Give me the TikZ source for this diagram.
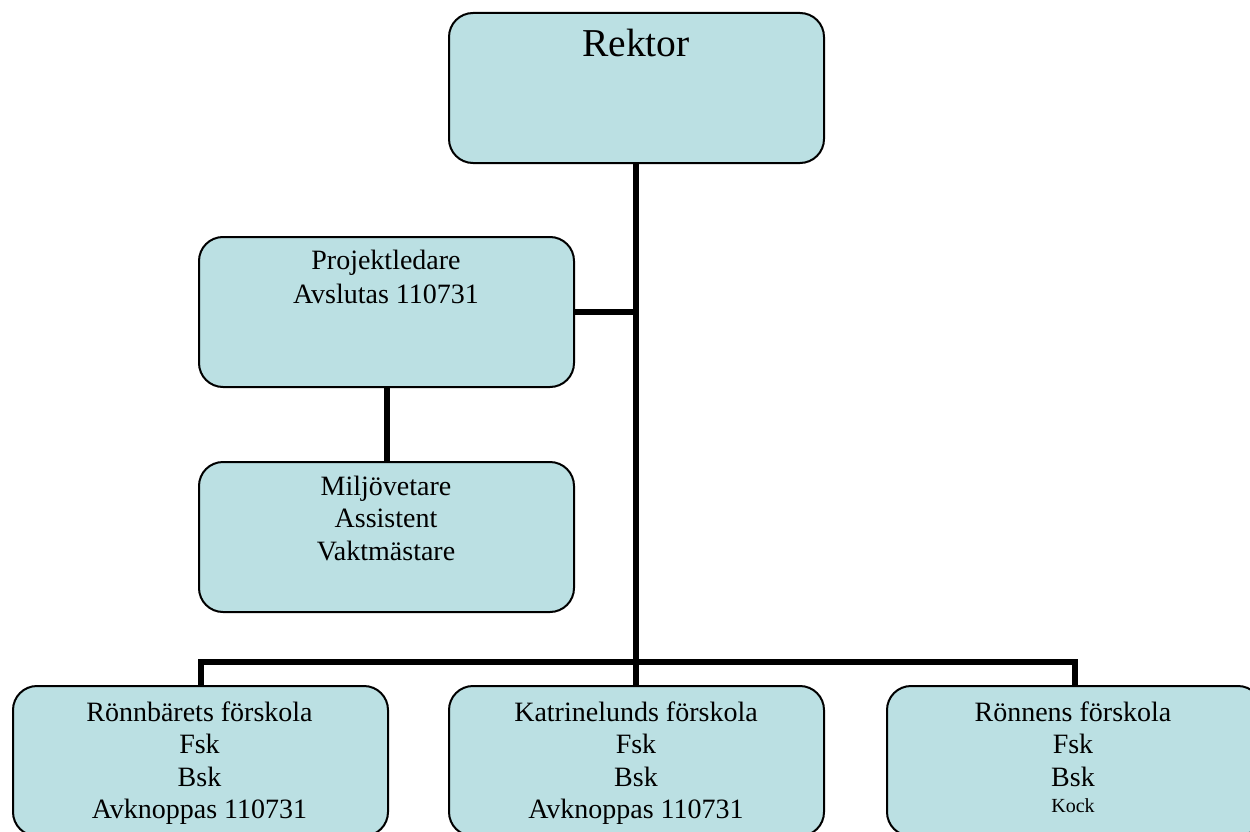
\documentclass[tikz,border=0pt]{standalone}
\usepackage{fontspec}
\setmainfont{Liberation Serif}
\definecolor{boxfill}{HTML}{BBE0E3}
\tikzset{
  box/.style={draw=black, line width=2pt, fill=boxfill, rounded corners=24pt,
    minimum width=375pt, minimum height=150pt, inner sep=0pt, anchor=north west},
  txt/.style={inner sep=0pt, anchor=base, font=\fontsize{28}{32.5}\selectfont},
  conn/.style={line width=6pt, line cap=butt, line join=miter}
}
\newcommand{\lines}[1]{\begin{tabular}[t]{@{}c@{}}#1\end{tabular}}
\begin{document}
\begin{tikzpicture}[x=1pt,y=-1pt]
\useasboundingbox (0,0) rectangle (1250,832);
\clip (0,0) rectangle (1250,832);
% boxes
\node[box] (rek) at (448,12) {};
\node[box] (proj) at (198,236) {};
\node[box] (milj) at (198,461) {};
\node[box] (ronnb) at (12,685) {};
\node[box] (katr) at (448,685) {};
\node[box] (ronn) at (886,685) {};
% junctions
\coordinate (jp) at (636,311.5);
\coordinate (jb) at (636,661.5);
% connectors
\draw[conn] (rek.south -| jb) -- ([yshift=3pt]jb);
\draw[conn] (proj.east |- jp) -- (jp);
\draw[conn] (proj.south) -- (milj.north);
\draw[conn] (ronnb.north) -- (ronnb.north |- jb) -- (ronn.north |- jb) -- (ronn.north);
\draw[conn] (jb) -- (katr.north -| jb);
% texts
\node[txt, font=\fontsize{39.5}{44}\selectfont] (trek) at (636,57) {Rektor};
\node[txt] (tproj) at (386,269) {\lines{Projektledare\\[1.5pt]Avslutas 110731}};
\node[txt] (tmilj) at (386,495) {\lines{Miljövetare\\Assistent\\Vaktmästare}};
\node[txt] (tronnb) at (199.5,721) {\lines{Rönnbärets förskola\\Fsk\\Bsk\\Avknoppas 110731}};
\node[txt] (tkatr) at (636,721) {\lines{Katrinelunds förskola\\Fsk\\Bsk\\Avknoppas 110731}};
\node[txt] (tronn) at (1073,721) {\lines{Rönnens förskola\\Fsk\\Bsk\\[-6pt]{\fontsize{20}{24}\selectfont Kock}}};
\end{tikzpicture}
\end{document}
